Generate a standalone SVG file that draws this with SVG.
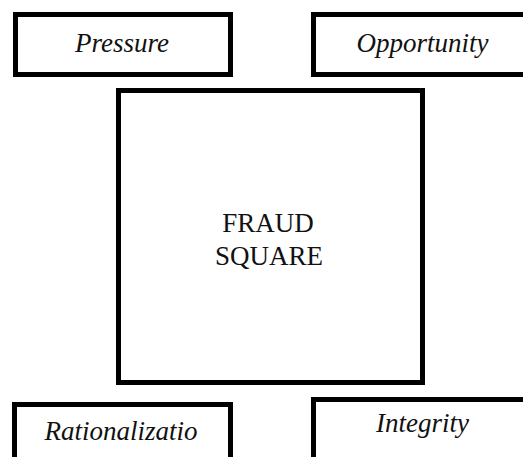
<svg xmlns="http://www.w3.org/2000/svg" width="523" height="457" viewBox="0 0 523 457">
<style>
.box{fill:#fff;stroke:#000;stroke-width:5}
.t{font-family:'Liberation Serif','DejaVu Serif',serif;font-size:27px;fill:#111;text-anchor:middle}
.i{font-style:italic}
</style>
<rect width="523" height="457" fill="#fff"/>
<g id="connectors"></g>
<g id="pressure">
<rect class="box" x="15.5" y="14.5" width="215" height="60"/>
<text class="t i" x="122" y="52">Pressure</text>
</g>
<g id="opportunity">
<rect class="box" x="313.5" y="14.5" width="220" height="60"/>
<text class="t i" x="422.5" y="52">Opportunity</text>
</g>
<g id="fraud-square">
<rect class="box" x="118.5" y="90.5" width="304" height="292"/>
<text class="t" x="268" y="232">FRAUD</text>
<text class="t" x="269" y="265">SQUARE</text>
</g>
<g id="rationalization">
<rect class="box" x="14.5" y="404.5" width="216" height="70"/>
<text class="t i" x="121" y="440">Rationalizatio</text>
</g>
<g id="integrity">
<rect class="box" x="313.5" y="399.5" width="220" height="70"/>
<text class="t i" x="422.5" y="432">Integrity</text>
</g>
</svg>
